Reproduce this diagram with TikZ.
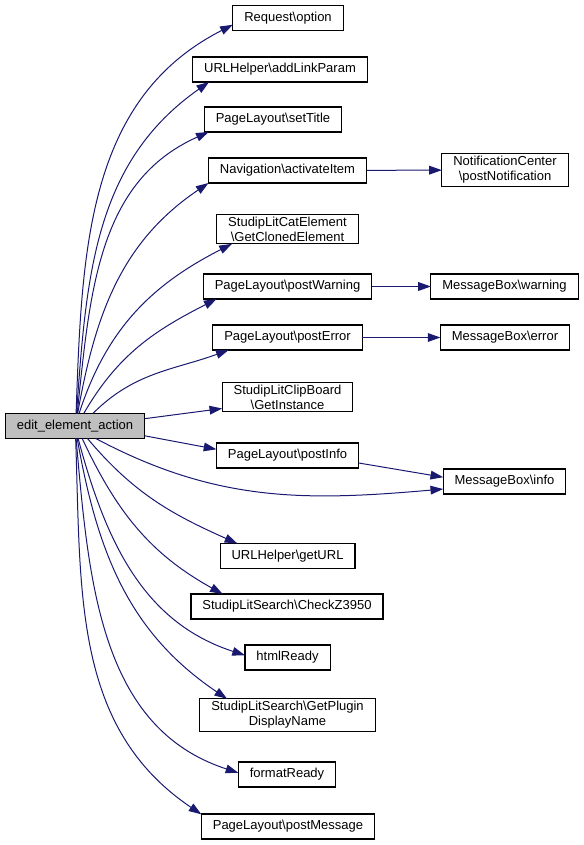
\documentclass[tikz,border=0pt]{standalone}
\usepackage{fontspec}
\setmainfont{Liberation Sans}
\usepackage{tikz}
\usetikzlibrary{arrows.meta}
\definecolor{edgeblue}{HTML}{191970}
\definecolor{rootgray}{HTML}{BFBFBF}

\begin{document}
\begin{tikzpicture}[x=0.75pt,y=-0.75pt]
  \tikzset{VertexStyle/.style = {
    shape          = rectangle,
    draw           = black,
    fill           = white,
    line width     = 0.8pt,
    text           = black,
    align          = center,
    font           = \fontsize{9.75}{11.2}\selectfont,
    inner xsep     = 8.6pt,
    inner ysep     = 2pt,
    minimum height = 18.75pt,
    outer sep      = 0pt
    }
  }
  \tikzset{RootStyle/.style = {
    VertexStyle,
    fill           = rootgray
    }
  }
  \tikzset{EdgeStyle/.style = {
    draw           = edgeblue,
    line width     = 0.75pt,
    -{Triangle[length=9.5pt,width=6.5pt]}
    }
  }
  \useasboundingbox (0,0) rectangle (584,845);

	\node[RootStyle](A1) at (75, 426) {edit\_element\_action};
	%
	\node[VertexStyle](B01) at (288, 18)    {Request\textbackslash option};
	\node[VertexStyle](B02) at (280, 69.5)  {URLHelper\textbackslash addLinkParam};
	\node[VertexStyle](B03) at (273, 119.5) {PageLayout\textbackslash setTitle};
	\node[VertexStyle](B04) at (287.5, 170.5) {Navigation\textbackslash activateItem};
	\node[VertexStyle](B05) at (287.5, 229) {StudipLitCatElement\\\textbackslash GetClonedElement};
	\node[VertexStyle](B06) at (287.5, 286.5) {PageLayout\textbackslash postWarning};
	\node[VertexStyle](B07) at (287.5, 337.5) {PageLayout\textbackslash postError};
	\node[VertexStyle](B08) at (287.5, 397) {StudipLitClipBoard\\\textbackslash GetInstance};
	\node[VertexStyle](B09) at (287.5, 455.5) {PageLayout\textbackslash postInfo};
	\node[VertexStyle](B10) at (287.5, 556) {URLHelper\textbackslash getURL};
	\node[VertexStyle](B11) at (287, 606.5) {StudipLitSearch\textbackslash CheckZ3950};
	\node[VertexStyle](B12) at (287.5, 657.5) {htmlReady};
	\node[VertexStyle](B13) at (287.5, 715) {StudipLitSearch\textbackslash GetPlugin\\DisplayName};
	\node[VertexStyle](B14) at (287, 774.5) {formatReady};
	\node[VertexStyle](B15) at (288, 826.5) {PageLayout\textbackslash postMessage};
	%
	\node[VertexStyle](C1) at (505, 170)   {NotificationCenter\\\textbackslash postNotification};
	\node[VertexStyle](C2) at (504.5, 286.5) {MessageBox\textbackslash warning};
	\node[VertexStyle](C3) at (505, 337.5) {MessageBox\textbackslash error};
	\node[VertexStyle](C4) at (504.5, 481.5) {MessageBox\textbackslash info};

	%
	\draw[EdgeStyle](A1.85) to[out=88, in=207] (B01.187);
	\draw[EdgeStyle](A1.83) to[out=86, in=215] (B02.190);
	\draw[EdgeStyle](A1.80) to[out=84, in=204] (B03.191);
	\draw[EdgeStyle](A1.78) to[out=80, in=214] (B04.189);
	\draw[EdgeStyle](A1.72) to[out=72, in=207] (B05.195);
	\draw[EdgeStyle](A1.55) to[out=60, in=207] (B06.190);
	\draw[EdgeStyle](A1.35) to[out=45, in=200] (B07.192);
	\draw[EdgeStyle](A1.6) to (B08.190);
	\draw[EdgeStyle](A1.-8) to (B09.175);
	\draw[EdgeStyle](A1.-31) to[out=-28, in=185] (C4.187);
	\draw[EdgeStyle](A1.-45) to[out=-50, in=156] (B10.166);
	\draw[EdgeStyle](A1.-60) to[out=-65, in=151] (B11.169);
	\draw[EdgeStyle](A1.-76) to[out=-75, in=162] (B12.177);
	\draw[EdgeStyle](A1.-80) to[out=-80, in=146] (B13.165);
	\draw[EdgeStyle](A1.-85) to[out=-85, in=162] (B14.178);
	\draw[EdgeStyle](A1.-87) to[out=-88, in=146] (B15.172);
	%
	\draw[EdgeStyle](B04) to (C1);
	\draw[EdgeStyle](B06) to (C2);
	\draw[EdgeStyle](B07) to (C3);
	\draw[EdgeStyle](B09.-6) to (C4.176);

\end{tikzpicture}
\end{document}
